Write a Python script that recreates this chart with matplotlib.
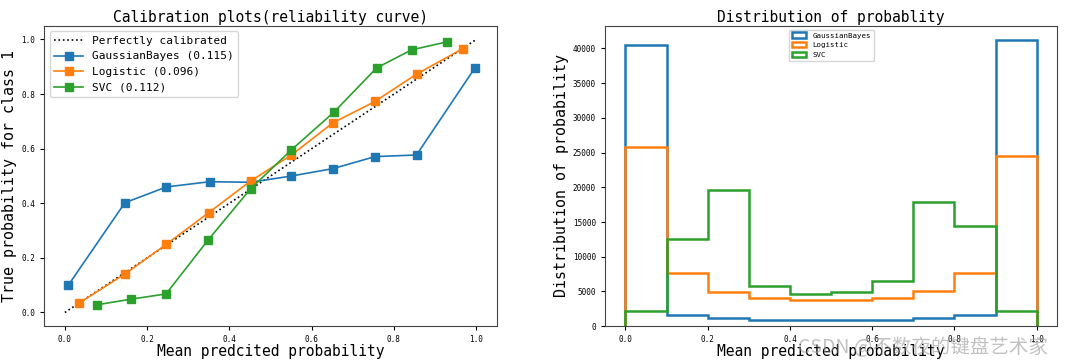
import numpy as np
import matplotlib
matplotlib.use("Agg")
import matplotlib.pyplot as plt

plt.rcParams['font.family'] = ['DejaVu Sans Mono', 'Noto Sans CJK SC']

# calibration curves: (mean predicted prob, fraction of positives)
gnb_x = [0.008, 0.146, 0.247, 0.352, 0.452, 0.551, 0.652, 0.754, 0.855, 0.997]
gnb_y = [0.099, 0.402, 0.460, 0.479, 0.477, 0.500, 0.527, 0.571, 0.577, 0.896]
lr_x = [0.034, 0.146, 0.247, 0.350, 0.452, 0.551, 0.652, 0.754, 0.855, 0.968]
lr_y = [0.034, 0.141, 0.250, 0.366, 0.482, 0.577, 0.695, 0.773, 0.873, 0.967]
svc_x = [0.077, 0.162, 0.246, 0.348, 0.452, 0.551, 0.655, 0.758, 0.843, 0.928]
svc_y = [0.028, 0.049, 0.068, 0.265, 0.454, 0.596, 0.735, 0.896, 0.962, 0.991]
labels = ["GaussianBayes", "Logistic", "SVC"]
brier = [0.115, 0.096, 0.112]

# histogram counts per bin
edges = np.linspace(0, 1, 11)
gnb_counts = [40550, 1650, 1150, 950, 850, 950, 850, 1150, 1650, 41200]
lr_counts = [25750, 7600, 4950, 4050, 3750, 3750, 4050, 5100, 7600, 24450]
svc_counts = [2150, 12550, 19650, 5800, 4700, 4950, 6550, 17950, 14450, 2150]

fig, (ax1, ax2) = plt.subplots(1, 2, figsize=(10.8, 3.64), dpi=100)
fig.subplots_adjust(left=0.041, right=0.979, bottom=0.104, top=0.929, wspace=0.239)

ax1.plot([0, 1], [0, 1], "k:", lw=1.2, label="Perfectly calibrated")
for xs, ys, name, b in zip([gnb_x, lr_x, svc_x], [gnb_y, lr_y, svc_y], labels, brier):
    ax1.plot(xs, ys, "s-", ms=5.5, lw=1.2, label="%s (%.3f)" % (name, b))
ax1.set_title("Calibration plots(reliability curve)", fontsize=10.5, pad=3)
ax1.set_xlabel("Mean predcited probability", fontsize=10.5, labelpad=0)
ax1.set_ylabel("True probability for class 1", fontsize=10.8, labelpad=3)
ax1.legend(fontsize=8, loc="upper left", handlelength=2.6)
ax1.tick_params(labelsize=5.5, length=3)

centers = (edges[:-1] + edges[1:]) / 2
for counts, name in zip([gnb_counts, lr_counts, svc_counts], labels):
    ax2.hist(centers, bins=edges, weights=counts, histtype="step", lw=1.8, label=name)
ax2.set_title("Distribution of probablity", fontsize=10.5, pad=3)
ax2.set_xlabel("Mean predicted probability", fontsize=10.5, labelpad=0)
ax2.set_ylabel("Distribution of probability", fontsize=10.8, labelpad=3)
ax2.legend(fontsize=5.3, loc="upper center")
ax2.tick_params(labelsize=5.5, length=3)

for ax in (ax1, ax2):
    for s in ax.spines.values():
        s.set_color("#444444")

# watermark, as in the source image
fig.text(0.97, 0.045, "CSDN @不数夜的键盘艺术家", fontsize=14, color="#999999", alpha=0.6,
         ha="right", va="center", family=['Noto Sans CJK SC'])

fig.savefig("out.png")
